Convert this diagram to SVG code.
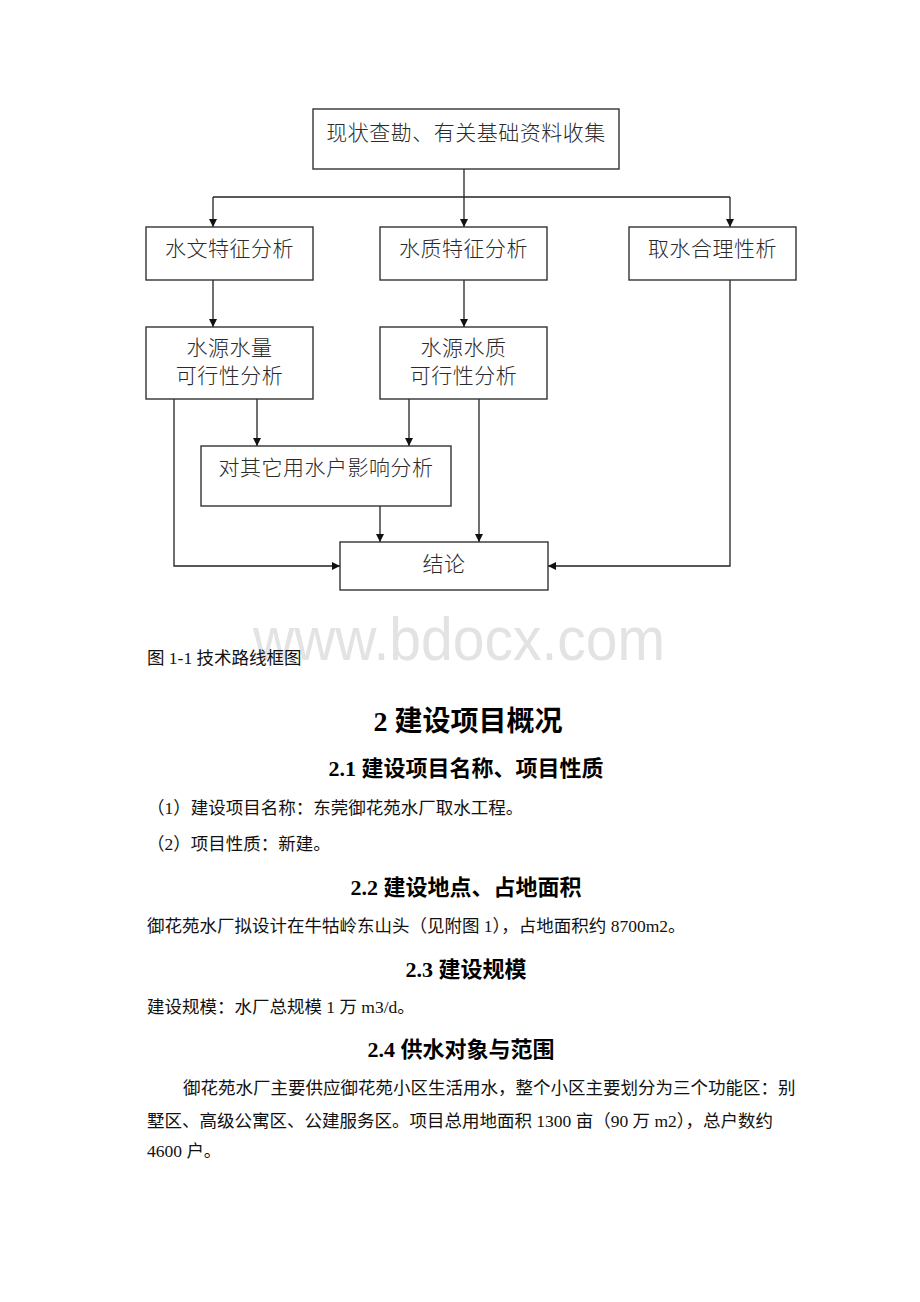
<svg xmlns="http://www.w3.org/2000/svg" width="920" height="1302" viewBox="0 0 920 1302">
<defs>
<marker id="ah" viewBox="0 0 10 10" refX="10" refY="5" markerWidth="8" markerHeight="8" markerUnits="userSpaceOnUse" orient="auto">
<path d="M0,0 L10,5 L0,10 Z" fill="#111"/>
</marker>
<style>
.box{fill:#fff;stroke:#333;stroke-width:1.4}
.bt{font-family:"Liberation Serif","Noto Sans CJK SC",serif;font-size:21px;font-weight:300;fill:#2a2a2a;text-anchor:middle;letter-spacing:0.5px}
.ln{fill:none;stroke:#222;stroke-width:1.3}
.ar{fill:none;stroke:#222;stroke-width:1.3;marker-end:url(#ah)}
.body{font-family:"Liberation Serif","Noto Sans CJK SC",serif;font-size:17.5px;fill:#111}
.h1{font-family:"Liberation Serif","Noto Sans CJK SC",serif;font-size:28px;font-weight:bold;fill:#000;text-anchor:middle}
.h2{font-family:"Liberation Serif","Noto Sans CJK SC",serif;font-size:22px;font-weight:bold;fill:#000;text-anchor:middle}
.wm{font-family:"Liberation Sans",Arial,sans-serif;font-size:62px;fill:#e3e3e3}
</style>
</defs>
<rect width="920" height="1302" fill="#fff"/>
<g id="connectors">
<path class="ar" d="M464,169 V227"/>
<path class="ln" d="M213,197 H730"/>
<path class="ar" d="M213,197 V227"/>
<path class="ar" d="M730,197 V227"/>
<path class="ar" d="M213,280 V327"/>
<path class="ar" d="M464,280 V327"/>
<path class="ar" d="M730,280 V566 H548"/>
<path class="ar" d="M174,399 V566 H340"/>
<path class="ar" d="M257,399 V446"/>
<path class="ar" d="M409,399 V446"/>
<path class="ar" d="M380,506 V542"/>
<path class="ar" d="M479,399 V542"/>
</g>
<g id="n-collect">
<rect class="box" x="313" y="109" width="306" height="60"/>
<text class="bt" x="466" y="140">现状查勘、有关基础资料收集</text>
</g>
<g id="n-hydro">
<rect class="box" x="146" y="227" width="167" height="53"/>
<text class="bt" x="229.5" y="256">水文特征分析</text>
</g>
<g id="n-quality">
<rect class="box" x="380" y="227" width="167" height="53"/>
<text class="bt" x="463.5" y="256">水质特征分析</text>
</g>
<g id="n-rational">
<rect class="box" x="629" y="227" width="167" height="53"/>
<text class="bt" x="712.5" y="256">取水合理性析</text>
</g>
<g id="n-quantity-feas">
<rect class="box" x="146" y="327" width="167" height="72"/>
<text class="bt" x="229.5" y="355">水源水量</text>
<text class="bt" x="229.5" y="383">可行性分析</text>
</g>
<g id="n-quality-feas">
<rect class="box" x="380" y="327" width="167" height="72"/>
<text class="bt" x="463.5" y="355">水源水质</text>
<text class="bt" x="463.5" y="383">可行性分析</text>
</g>
<g id="n-impact">
<rect class="box" x="201" y="446" width="250" height="60"/>
<text class="bt" x="326" y="475">对其它用水户影响分析</text>
</g>
<g id="n-conclusion">
<rect class="box" x="340" y="542" width="208" height="48"/>
<text class="bt" x="444" y="571">结论</text>
</g>
<text class="wm" x="253" y="660" textLength="412" lengthAdjust="spacingAndGlyphs">www.bdocx.com</text>
<text class="body" x="147" y="664" font-size="17">图 1-1 技术路线框图</text>
<text class="h1" x="468" y="731">2 建设项目概况</text>
<text class="h2" x="466" y="776">2.1 建设项目名称、项目性质</text>
<text class="body" x="147" y="814">（1）建设项目名称：东莞御花苑水厂取水工程。</text>
<text class="body" x="147" y="850">（2）项目性质：新建。</text>
<text class="h2" x="466" y="895">2.2 建设地点、占地面积</text>
<text class="body" x="147" y="932">御花苑水厂拟设计在牛牯岭东山头（见附图 1），占地面积约 8700m2。</text>
<text class="h2" x="466" y="977">2.3 建设规模</text>
<text class="body" x="147" y="1013">建设规模：水厂总规模 1 万 m3/d。</text>
<text class="h2" x="461" y="1057">2.4 供水对象与范围</text>
<text class="body" x="183" y="1094">御花苑水厂主要供应御花苑小区生活用水，整个小区主要划分为三个功能区：别</text>
<text class="body" x="147" y="1127">墅区、高级公寓区、公建服务区。项目总用地面积 1300 亩（90 万 m2），总户数约</text>
<text class="body" x="147" y="1157">4600 户。</text>
</svg>
